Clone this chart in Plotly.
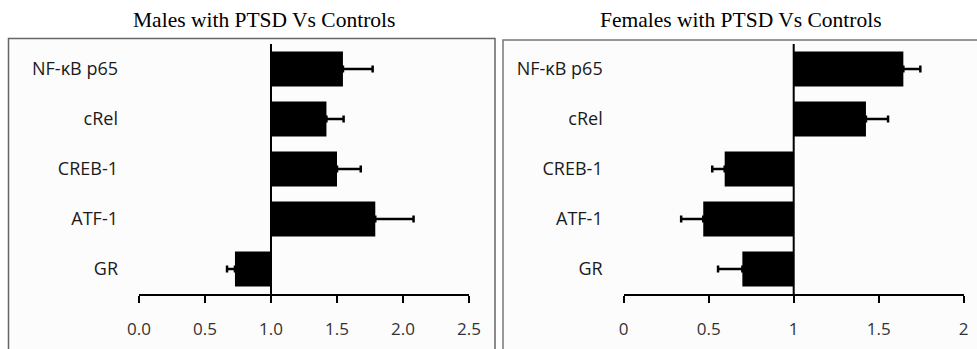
import plotly.graph_objects as go

W, H = 977, 349

categories = ["NF-κB p65", "cRel", "CREB-1", "ATF-1", "GR"]
male_values = [1.545, 1.42, 1.50, 1.79, 0.727]
male_errors = [0.225, 0.13, 0.18, 0.29, 0.06]
female_values = [1.645, 1.425, 0.594, 0.468, 0.698]
female_errors = [0.10, 0.13, 0.073, 0.13, 0.143]
male_ticks = [0.0, 0.5, 1.0, 1.5, 2.0, 2.5]
male_ticklabels = ["0.0", "0.5", "1.0", "1.5", "2.0", "2.5"]
female_ticks = [0, 0.5, 1, 1.5, 2]
female_ticklabels = ["0", "0.5", "1", "1.5", "2"]
titles = ["Males with PTSD Vs Controls", "Females with PTSD Vs Controls"]
baseline = 1.0


def px(x):
    return x / W


def py(y):
    return 1 - y / H


def bar_trace(values, errors, xa, ya):
    sizes = [v - baseline for v in values]
    plus = [e if v >= baseline else 0 for v, e in zip(values, errors)]
    minus = [e if v < baseline else 0 for v, e in zip(values, errors)]
    return go.Bar(
        y=categories, x=sizes, base=[baseline] * len(values),
        orientation="h", width=0.7,
        marker=dict(color="black", line=dict(width=0)),
        error_x=dict(type="data", symmetric=False, array=plus, arrayminus=minus,
                     color="black", thickness=2.5, width=3.5),
        xaxis=xa, yaxis=ya, showlegend=False, hoverinfo="skip",
    )


fig = go.Figure()
fig.add_trace(bar_trace(male_values, male_errors, "x", "y"))
fig.add_trace(bar_trace(female_values, female_errors, "x2", "y2"))

ydom = [py(294), py(44)]
tickfont = dict(family="Open Sans", size=17, color="#333")
labfont = dict(family="Open Sans", size=18, color="#1a1a1a")

common_x = dict(showline=True, linecolor="black", linewidth=2, ticks="outside",
                ticklen=7, tickwidth=2, tickcolor="black", showgrid=False,
                zeroline=False, tickfont=tickfont, ticklabelstandoff=12,
                fixedrange=True, automargin=False)
common_y = dict(showline=False, ticks="", showgrid=False, zeroline=False,
                categoryorder="array", categoryarray=categories[::-1],
                range=[-0.5, 4.5], tickfont=labfont, ticklabelstandoff=20,
                fixedrange=True, automargin=False)

fig.update_layout(
    template="none",
    width=W, height=H, autosize=False,
    margin=dict(l=0, r=0, t=0, b=0, pad=0),
    paper_bgcolor="white", plot_bgcolor="rgba(0,0,0,0)",
    xaxis=dict(domain=[px(139), px(469)], range=[0, 2.5], tickvals=male_ticks,
               ticktext=male_ticklabels, anchor="y", **common_x),
    yaxis=dict(domain=ydom, anchor="x", **common_y),
    xaxis2=dict(domain=[px(623.7), px(963.7)], range=[0, 2], tickvals=female_ticks,
                ticktext=female_ticklabels, anchor="y2", **common_x),
    yaxis2=dict(domain=ydom, anchor="x2", **common_y),
    bargap=0.3,
)

shapes = [
    dict(type="rect", xref="paper", yref="paper", x0=px(8.5), x1=px(495),
         y0=-0.1, y1=py(38.5), line=dict(color="#666", width=1.5),
         fillcolor="#fcfcfc", layer="below"),
    dict(type="rect", xref="paper", yref="paper", x0=px(503), x1=px(990),
         y0=-0.1, y1=py(40), line=dict(color="#777", width=1.5),
         fillcolor="#fcfcfc", layer="below"),
    dict(type="line", xref="x", yref="y domain", x0=baseline, x1=baseline,
         y0=0, y1=1, line=dict(color="black", width=2)),
    dict(type="line", xref="x2", yref="y2 domain", x0=baseline, x1=baseline,
         y0=0, y1=1, line=dict(color="black", width=2)),
]
fig.update_layout(shapes=shapes)

for t, cx in zip(titles, [264, 740.5]):
    fig.add_annotation(text=t, xref="paper", yref="paper", x=px(cx), y=py(20),
                       xanchor="center", yanchor="middle", showarrow=False,
                       font=dict(family="Liberation Serif", size=21.5, color="black"))

fig.write_html(
    "out.html",
    config={"displayModeBar": False},
    post_script="document.body.style.margin='0';document.body.style.overflow='hidden';",
)
